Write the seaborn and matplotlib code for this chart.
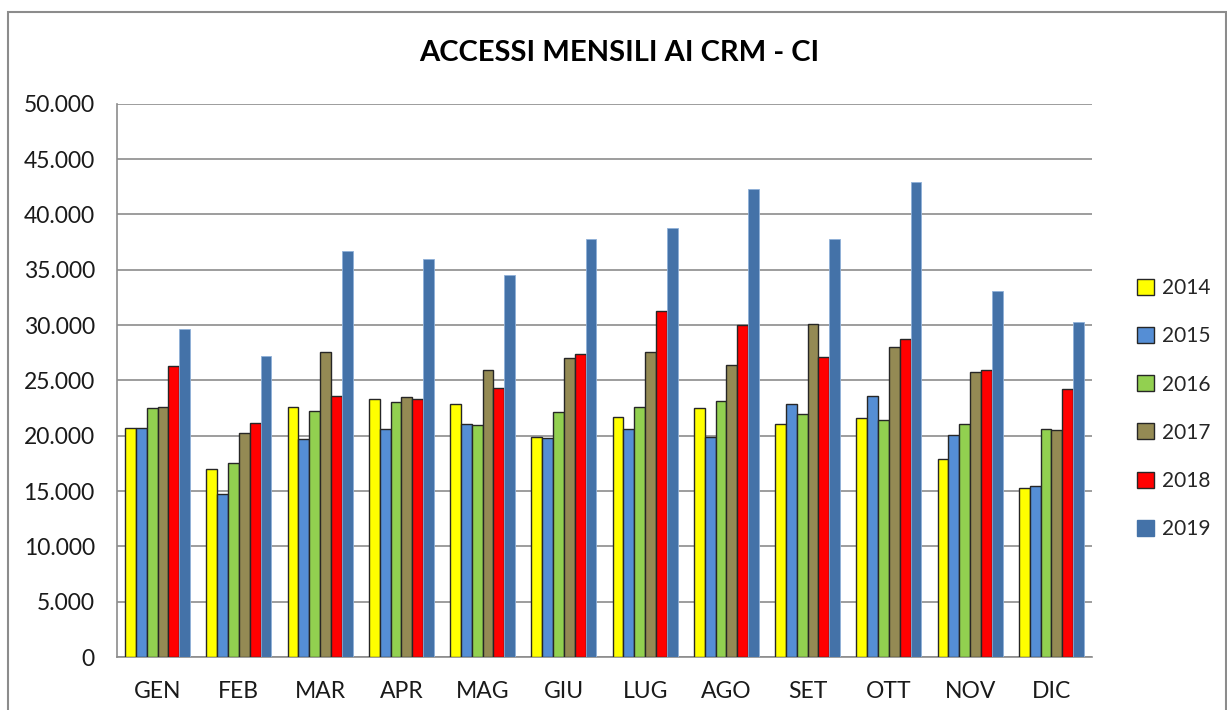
import pandas as pd
import matplotlib
matplotlib.use("Agg")
import matplotlib.pyplot as plt
import seaborn as sns
from matplotlib.patches import Patch, Rectangle
from matplotlib.ticker import FuncFormatter, MultipleLocator

months = ["GEN", "FEB", "MAR", "APR", "MAG", "GIU", "LUG", "AGO", "SET", "OTT", "NOV", "DIC"]
years = ["2014", "2015", "2016", "2017", "2018", "2019"]

v2014 = [20730, 16970, 22590, 23350, 22830, 19880, 21720, 22470, 21090, 21600, 17930, 15310]
v2015 = [20730, 14710, 19670, 20640, 21090, 19770, 20640, 19920, 22900, 23560, 20100, 15460]
v2016 = [22470, 17500, 22260, 23040, 20970, 22140, 22590, 23140, 22000, 21390, 21090, 20640]
v2017 = [22590, 20200, 27560, 23470, 25930, 27010, 27560, 26380, 30050, 27980, 25750, 20550]
v2018 = [26260, 21180, 23590, 23350, 24310, 27380, 31230, 30020, 27100, 28730, 25930, 24190]
v2019 = [29630, 27170, 36670, 36010, 34540, 37750, 38750, 42270, 37750, 42930, 33090, 30260]

colors = ["#FFFF00", "#558ED5", "#92D050", "#948A54", "#FF0000", "#4472A8"]

series = [v2014, v2015, v2016, v2017, v2018, v2019]
rows = []
for y, vals in zip(years, series):
    for m, v in zip(months, vals):
        rows.append({"mese": m, "anno": y, "accessi": v})
df = pd.DataFrame(rows)

sns.set_style("white")
plt.rcParams["font.family"] = ["Lato", "DejaVu Sans"]

fig = plt.figure(figsize=(12.27, 7.10), dpi=100)
ax = fig.add_axes([117 / 1227, 1 - 657 / 710, (1092 - 117) / 1227, (657 - 103.7) / 710])

sns.barplot(data=df, x="mese", y="accessi", hue="anno", order=months, hue_order=years,
            palette=colors, saturation=1, width=0.8, edgecolor="#262626", linewidth=1.0,
            ax=ax, legend=False, zorder=3)

# 2019 bars have no dark outline in the original
for bar in ax.containers[-1]:
    bar.set_edgecolor("#8FB0D8")
    bar.set_linewidth(0.6)

ax.set_ylim(0, 50000)
ax.set_xlim(-0.5, 11.5)
ax.yaxis.set_major_locator(MultipleLocator(5000))
ax.yaxis.set_major_formatter(FuncFormatter(lambda v, p: f"{int(v):,}".replace(",", ".")))
ax.grid(axis="y", color="#8C8C8C", linewidth=1.2, zorder=0)
ax.set_axisbelow(True)
ax.set_xlabel("")
ax.set_ylabel("")
for s in ["top", "right"]:
    ax.spines[s].set_visible(False)
for s in ["left", "bottom"]:
    ax.spines[s].set_color("#8C8C8C")
    ax.spines[s].set_linewidth(1.2)
ax.tick_params(axis="y", length=0, pad=16, labelsize=16.5, labelcolor="#1a1a1a")
ax.tick_params(axis="x", length=0, pad=17, labelsize=16.5, labelcolor="#1a1a1a")

fig.text(619 / 1227, 1 - 53 / 710, "ACCESSI MENSILI AI CRM - CI", ha="center", va="center",
         fontsize=21, fontweight="bold", color="black")

handles = [Patch(facecolor=c, edgecolor="#262626" if y != "2019" else "#4472A8", linewidth=1.0)
           for c, y in zip(colors, years)]
fig.legend(handles, years, loc="upper left", bbox_to_anchor=(1129 / 1227, 1 - 270 / 710),
           frameon=False, fontsize=15, handlelength=0.8, handleheight=0.8,
           handletextpad=0.4, labelspacing=1.35, borderaxespad=0)

# outer chart border
fig.add_artist(Rectangle((8 / 1227, -0.05), (1226 - 8) / 1227, 1 - 12 / 710 + 0.05,
                         transform=fig.transFigure, fill=False, edgecolor="#8C8C8C",
                         linewidth=1.5))

fig.savefig("out.png", dpi=100)
